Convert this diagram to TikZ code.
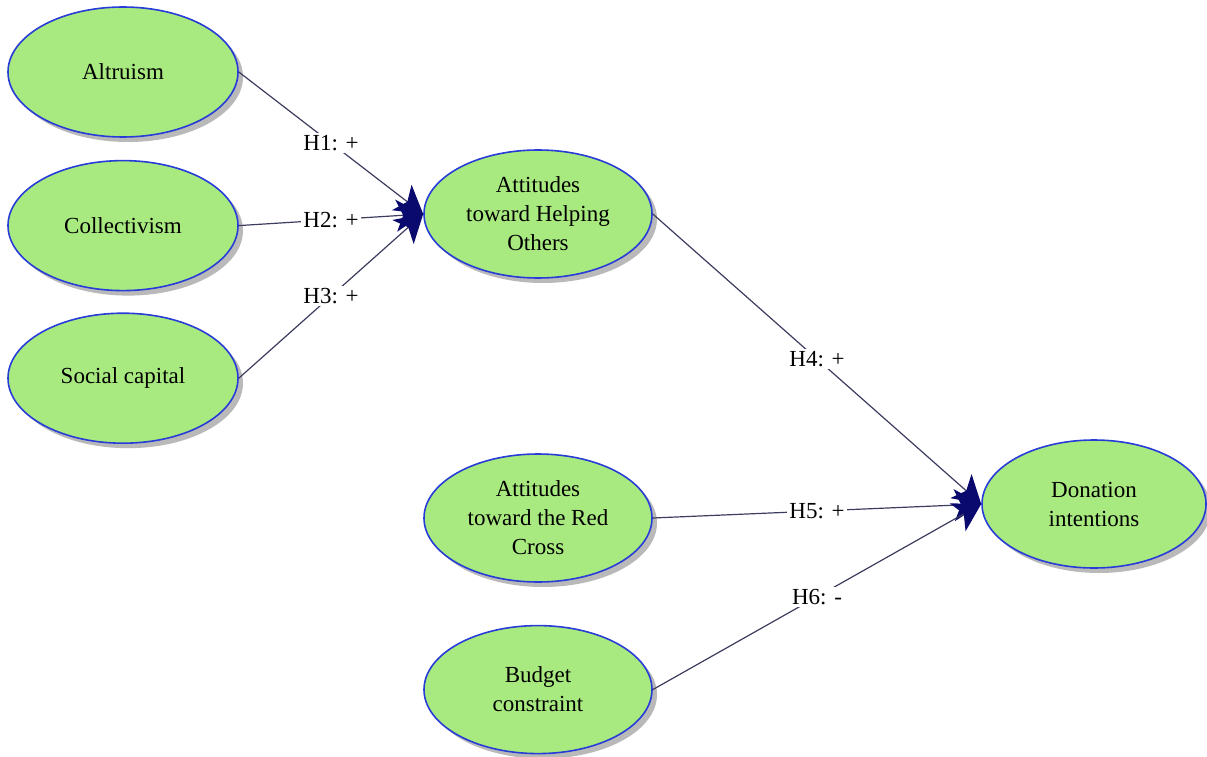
\documentclass[tikz,border=0pt]{standalone}
\usepackage{fontspec}
\setmainfont{Liberation Serif}
\usetikzlibrary{positioning,arrows.meta,shapes.geometric,shadows}
\definecolor{construct}{RGB}{168,234,128}
\definecolor{rim}{RGB}{40,60,215}
\definecolor{pathline}{RGB}{60,60,95}
\definecolor{tipnavy}{RGB}{10,10,110}

\begin{document}
\begin{tikzpicture}[x=1pt,y=-1pt,font=\fontsize{23}{29}\selectfont,
  latent/.style={ellipse,draw=rim,line width=1.6pt,fill=construct,
    minimum width=230pt,minimum height=130pt,inner sep=0pt,align=center,
    drop shadow={shadow xshift=5pt,shadow yshift=-5pt,fill=black!55}},
  hyp/.style={draw=pathline,line width=1.2pt,
    -{Stealth[length=27pt,width=32pt,inset=7pt,color=tipnavy]}},
  lbl/.style={fill=white,inner sep=2pt,text=black}]
\useasboundingbox (0,0) rectangle (1207,757);

\node[latent] (alt) at (123,72) {Altruism};
\node[latent] (coll) [below=22pt of alt] {Collectivism};
\node[latent] (soc) [below=21pt of coll] {Social capital};

\node[latent,minimum width=228pt,minimum height=128pt] (help) at (538,214)
  {Attitudes\\toward Helping\\Others};
\node[latent,minimum width=228pt,minimum height=128pt] (redx) at (538,518)
  {Attitudes\\toward the Red\\Cross};
\node[latent,minimum width=228pt,minimum height=128pt] (budg) [below=42pt of redx]
  {Budget\\constraint};
\node[latent,minimum width=224pt,minimum height=128pt] (don) at (1094,504)
  {Donation\\intentions};

% hypothesised paths
\draw[hyp] (alt.east) -- node[lbl] {H1: +} (help.west);
\draw[hyp] (coll.east) -- node[lbl] {H2: +} (help.west);
\draw[hyp] (soc.east) -- node[lbl] {H3: +} (help.west);
\draw[hyp] (help.east) -- node[lbl] {H4: +} (don.west);
\draw[hyp] (redx.east) -- node[lbl] {H5: +} (don.west);
\draw[hyp] (budg.east) -- node[lbl] {H6: -} (don.west);
\end{tikzpicture}
\end{document}
